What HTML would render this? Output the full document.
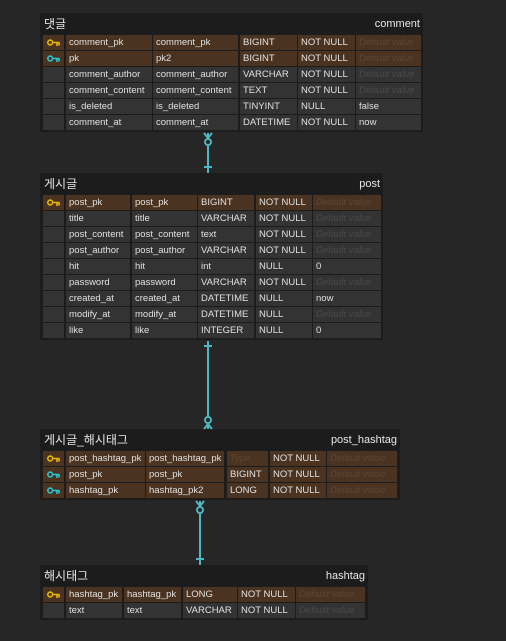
<!DOCTYPE html>
<html><head><meta charset="utf-8"><style>
body{margin:0;width:506px;height:641px;background:#262626;position:relative;overflow:hidden;font-family:"Liberation Sans","Noto Sans CJK KR",sans-serif;}
.t{position:absolute;background:#1c1c1c;}
.h{position:absolute;left:4px;top:2px;color:#e6e6e6;font-size:12px;line-height:18px;}
.n{position:absolute;right:3px;top:3px;color:#e6e6e6;font-size:11px;line-height:16px;}
.r{position:absolute;left:3px;height:15px;}
.c{position:absolute;top:0;height:15px;background:#333;color:#e0e0e0;font-size:9.5px;line-height:15px;padding-left:3px;box-sizing:border-box;white-space:nowrap;overflow:hidden;}
.p .c{background:#4a3320;}
.d{color:#4a4a4a;font-style:italic;}
.p .d{color:#5e4630;}
.k{padding:0;}
.k svg{position:absolute;left:4px;top:4px;}
.y{color:#e5b800}.b{color:#2bc4cf}
</style></head><body>

<!-- comment -->
<div class="t" style="left:40px;top:13px;width:383px;height:119px;">
<div class="h">댓글</div><div class="n">comment</div>
<div class="r p" style="top:22px"><div class="c k y" style="left:0;width:21px"><svg width="13" height="8" viewBox="0 0 13 8" fill="none" stroke="currentColor" stroke-width="1.6"><circle cx="3.2" cy="3.5" r="2.4"/><path d="M5.6 3.5H12.5M10 3.5V7M12 3.5V6.5"/></svg></div><div class="c" style="left:23px;width:86px">comment_pk</div><div class="c" style="left:110px;width:85px">comment_pk</div><div class="c" style="left:197px;width:57px">BIGINT</div><div class="c" style="left:255px;width:57px">NOT NULL</div><div class="c d" style="left:313px;width:65px">Default value</div></div>
<div class="r p" style="top:38px"><div class="c k b" style="left:0;width:21px"><svg width="13" height="8" viewBox="0 0 13 8" fill="none" stroke="currentColor" stroke-width="1.6"><circle cx="3.2" cy="3.5" r="2.4"/><path d="M5.6 3.5H12.5M10 3.5V7M12 3.5V6.5"/></svg></div><div class="c" style="left:23px;width:86px">pk</div><div class="c" style="left:110px;width:85px">pk2</div><div class="c" style="left:197px;width:57px">BIGINT</div><div class="c" style="left:255px;width:57px">NOT NULL</div><div class="c d" style="left:313px;width:65px">Default value</div></div>
<div class="r" style="top:54px"><div class="c" style="left:0;width:21px"></div><div class="c" style="left:23px;width:86px">comment_author</div><div class="c" style="left:110px;width:85px">comment_author</div><div class="c" style="left:197px;width:57px">VARCHAR</div><div class="c" style="left:255px;width:57px">NOT NULL</div><div class="c d" style="left:313px;width:65px">Default value</div></div>
<div class="r" style="top:70px"><div class="c" style="left:0;width:21px"></div><div class="c" style="left:23px;width:86px">comment_content</div><div class="c" style="left:110px;width:85px">comment_content</div><div class="c" style="left:197px;width:57px">TEXT</div><div class="c" style="left:255px;width:57px">NOT NULL</div><div class="c d" style="left:313px;width:65px">Default value</div></div>
<div class="r" style="top:86px"><div class="c" style="left:0;width:21px"></div><div class="c" style="left:23px;width:86px">is_deleted</div><div class="c" style="left:110px;width:85px">is_deleted</div><div class="c" style="left:197px;width:57px">TINYINT</div><div class="c" style="left:255px;width:57px">NULL</div><div class="c" style="left:313px;width:65px">false</div></div>
<div class="r" style="top:102px"><div class="c" style="left:0;width:21px"></div><div class="c" style="left:23px;width:86px">comment_at</div><div class="c" style="left:110px;width:85px">comment_at</div><div class="c" style="left:197px;width:57px">DATETIME</div><div class="c" style="left:255px;width:57px">NOT NULL</div><div class="c" style="left:313px;width:65px">now</div></div>
</div>

<!-- post -->
<div class="t" style="left:40px;top:173px;width:343px;height:167px;">
<div class="h">게시글</div><div class="n">post</div>
<div class="r p" style="top:22px"><div class="c k y" style="left:0;width:21px"><svg width="13" height="8" viewBox="0 0 13 8" fill="none" stroke="currentColor" stroke-width="1.6"><circle cx="3.2" cy="3.5" r="2.4"/><path d="M5.6 3.5H12.5M10 3.5V7M12 3.5V6.5"/></svg></div><div class="c" style="left:23px;width:64px">post_pk</div><div class="c" style="left:89px;width:65px">post_pk</div><div class="c" style="left:155px;width:56px">BIGINT</div><div class="c" style="left:213px;width:56px">NOT NULL</div><div class="c d" style="left:270px;width:68px">Default value</div></div>
<div class="r" style="top:38px"><div class="c" style="left:0;width:21px"></div><div class="c" style="left:23px;width:64px">title</div><div class="c" style="left:89px;width:65px">title</div><div class="c" style="left:155px;width:56px">VARCHAR</div><div class="c" style="left:213px;width:56px">NOT NULL</div><div class="c d" style="left:270px;width:68px">Default value</div></div>
<div class="r" style="top:54px"><div class="c" style="left:0;width:21px"></div><div class="c" style="left:23px;width:64px">post_content</div><div class="c" style="left:89px;width:65px">post_content</div><div class="c" style="left:155px;width:56px">text</div><div class="c" style="left:213px;width:56px">NOT NULL</div><div class="c d" style="left:270px;width:68px">Default value</div></div>
<div class="r" style="top:70px"><div class="c" style="left:0;width:21px"></div><div class="c" style="left:23px;width:64px">post_author</div><div class="c" style="left:89px;width:65px">post_author</div><div class="c" style="left:155px;width:56px">VARCHAR</div><div class="c" style="left:213px;width:56px">NOT NULL</div><div class="c d" style="left:270px;width:68px">Default value</div></div>
<div class="r" style="top:86px"><div class="c" style="left:0;width:21px"></div><div class="c" style="left:23px;width:64px">hit</div><div class="c" style="left:89px;width:65px">hit</div><div class="c" style="left:155px;width:56px">int</div><div class="c" style="left:213px;width:56px">NULL</div><div class="c" style="left:270px;width:68px">0</div></div>
<div class="r" style="top:102px"><div class="c" style="left:0;width:21px"></div><div class="c" style="left:23px;width:64px">password</div><div class="c" style="left:89px;width:65px">password</div><div class="c" style="left:155px;width:56px">VARCHAR</div><div class="c" style="left:213px;width:56px">NOT NULL</div><div class="c d" style="left:270px;width:68px">Default value</div></div>
<div class="r" style="top:118px"><div class="c" style="left:0;width:21px"></div><div class="c" style="left:23px;width:64px">created_at</div><div class="c" style="left:89px;width:65px">created_at</div><div class="c" style="left:155px;width:56px">DATETIME</div><div class="c" style="left:213px;width:56px">NULL</div><div class="c" style="left:270px;width:68px">now</div></div>
<div class="r" style="top:134px"><div class="c" style="left:0;width:21px"></div><div class="c" style="left:23px;width:64px">modify_at</div><div class="c" style="left:89px;width:65px">modify_at</div><div class="c" style="left:155px;width:56px">DATETIME</div><div class="c" style="left:213px;width:56px">NULL</div><div class="c d" style="left:270px;width:68px">Default value</div></div>
<div class="r" style="top:150px"><div class="c" style="left:0;width:21px"></div><div class="c" style="left:23px;width:64px">like</div><div class="c" style="left:89px;width:65px">like</div><div class="c" style="left:155px;width:56px">INTEGER</div><div class="c" style="left:213px;width:56px">NULL</div><div class="c" style="left:270px;width:68px">0</div></div>
</div>

<!-- post_hashtag -->
<div class="t" style="left:40px;top:429px;width:360px;height:71px;">
<div class="h">게시글_해시태그</div><div class="n">post_hashtag</div>
<div class="r p" style="top:22px"><div class="c k y" style="left:0;width:21px"><svg width="13" height="8" viewBox="0 0 13 8" fill="none" stroke="currentColor" stroke-width="1.6"><circle cx="3.2" cy="3.5" r="2.4"/><path d="M5.6 3.5H12.5M10 3.5V7M12 3.5V6.5"/></svg></div><div class="c" style="left:23px;width:79px">post_hashtag_pk</div><div class="c" style="left:103px;width:78px">post_hashtag_pk</div><div class="c d" style="left:184px;width:41px">Type</div><div class="c" style="left:227px;width:56px">NOT NULL</div><div class="c d" style="left:284px;width:70px">Default value</div></div>
<div class="r p" style="top:38px"><div class="c k b" style="left:0;width:21px"><svg width="13" height="8" viewBox="0 0 13 8" fill="none" stroke="currentColor" stroke-width="1.6"><circle cx="3.2" cy="3.5" r="2.4"/><path d="M5.6 3.5H12.5M10 3.5V7M12 3.5V6.5"/></svg></div><div class="c" style="left:23px;width:79px">post_pk</div><div class="c" style="left:103px;width:78px">post_pk</div><div class="c" style="left:184px;width:41px">BIGINT</div><div class="c" style="left:227px;width:56px">NOT NULL</div><div class="c d" style="left:284px;width:70px">Default value</div></div>
<div class="r p" style="top:54px"><div class="c k b" style="left:0;width:21px"><svg width="13" height="8" viewBox="0 0 13 8" fill="none" stroke="currentColor" stroke-width="1.6"><circle cx="3.2" cy="3.5" r="2.4"/><path d="M5.6 3.5H12.5M10 3.5V7M12 3.5V6.5"/></svg></div><div class="c" style="left:23px;width:79px">hashtag_pk</div><div class="c" style="left:103px;width:78px">hashtag_pk2</div><div class="c" style="left:184px;width:41px">LONG</div><div class="c" style="left:227px;width:56px">NOT NULL</div><div class="c d" style="left:284px;width:70px">Default value</div></div>
</div>

<!-- hashtag -->
<div class="t" style="left:40px;top:565px;width:328px;height:55px;">
<div class="h">해시태그</div><div class="n">hashtag</div>
<div class="r p" style="top:22px"><div class="c k y" style="left:0;width:21px"><svg width="13" height="8" viewBox="0 0 13 8" fill="none" stroke="currentColor" stroke-width="1.6"><circle cx="3.2" cy="3.5" r="2.4"/><path d="M5.6 3.5H12.5M10 3.5V7M12 3.5V6.5"/></svg></div><div class="c" style="left:23px;width:56px">hashtag_pk</div><div class="c" style="left:81px;width:57px">hashtag_pk</div><div class="c" style="left:140px;width:54px">LONG</div><div class="c" style="left:195px;width:57px">NOT NULL</div><div class="c d" style="left:253px;width:69px">Default value</div></div>
<div class="r" style="top:38px"><div class="c" style="left:0;width:21px"></div><div class="c" style="left:23px;width:56px">text</div><div class="c" style="left:81px;width:57px">text</div><div class="c" style="left:140px;width:54px">VARCHAR</div><div class="c" style="left:195px;width:57px">NOT NULL</div><div class="c d" style="left:253px;width:69px">Default value</div></div>
</div>

<svg width="506" height="641" style="position:absolute;left:0;top:0" fill="none" stroke="#4fb5c0" stroke-width="2">
<line x1="208" y1="133" x2="208" y2="173"/>
<path d="M204 133 L208 138 L212 133"/>
<circle cx="208" cy="142" r="3" fill="#262626"/>
<line x1="204" y1="167" x2="212" y2="167"/>
<line x1="208" y1="341" x2="208" y2="429"/>
<line x1="204" y1="346" x2="212" y2="346"/>
<circle cx="208" cy="420" r="3" fill="#262626"/>
<path d="M204 429 L208 424 L212 429"/>
<line x1="200" y1="501" x2="200" y2="565"/>
<path d="M196 501 L200 506 L204 501"/>
<circle cx="200" cy="510" r="3" fill="#262626"/>
<line x1="196" y1="559" x2="204" y2="559"/>
</svg>
</body></html>
